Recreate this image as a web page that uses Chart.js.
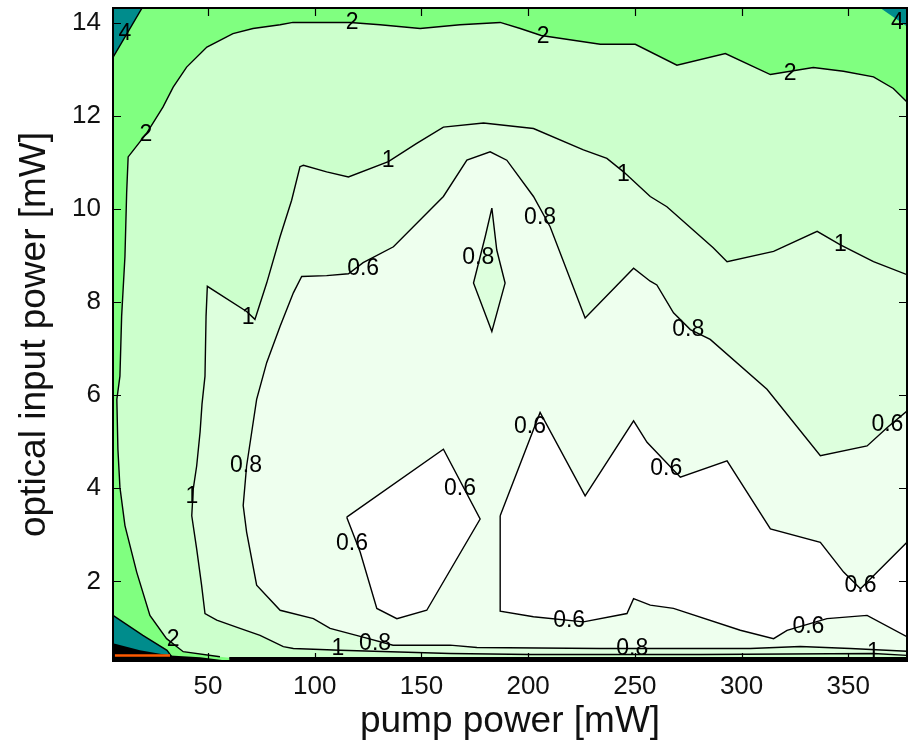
<!DOCTYPE html>
<html>
<head>
<meta charset="utf-8">
<script src="https://cdn.jsdelivr.net/npm/chart.js@4.4.0/dist/chart.umd.min.js"></script>
<style>
  html, body { margin: 0; padding: 0; background: #fff; }
  canvas { display: block; }
</style>
</head>
<body>
<canvas id="contour" width="912" height="744"></canvas>
<script>
// axis ranges and ticks (pump power / optical input power, mW)
const xMin = 5.5, xMax = 377.5;
const yMin = 0.29, yMax = 14.32;
const xTicks = [50, 100, 150, 200, 250, 300, 350];
const yTicks = [2, 4, 6, 8, 10, 12, 14];

// contour outlines, [pump mW, optical mW]
const level4TopLeft = [[5.5, 14.32], [19.1, 14.32], [5.5, 13.26]];
const level4TopRight = [[365, 14.32], [377.5, 14.32], [377.5, 13.92]];
const level4BottomLeft = [[5.5, 1.27], [19.5, 0.84], [30.8, 0.52], [34.5, 0.29], [5.5, 0.29]];
const darkBottomLeft = [[5.5, 0.67], [18.1, 0.52], [32.2, 0.41], [46.3, 0.37], [60.3, 0.29], [5.5, 0.29]];

const contour2 = [
  [55.6, 0.38], [38.4, 0.49], [30.6, 0.77], [22.8, 1.27], [16.6, 2.20], [11.1, 3.20],
  [8.75, 4.02], [7.8, 4.84], [7.3, 5.91], [8.75, 6.41], [9.55, 7.70], [11.1, 8.98],
  [11.9, 10.35], [12.6, 11.12], [21.3, 11.63], [28.9, 12.19], [33.7, 12.62], [40.0, 13.05],
  [49.5, 13.48], [61.7, 13.77], [71.1, 13.88], [83.8, 13.96], [89.8, 14.01], [116.6, 14.01],
  [130.6, 13.96], [149.4, 13.88], [168.1, 13.96], [186.9, 14.01], [196.3, 13.88], [206.1, 13.73],
  [233.8, 13.54], [250.2, 13.54], [269.7, 13.09], [292.4, 13.34], [313.5, 12.89], [333.6, 13.04],
  [347.7, 12.96], [361.8, 12.84], [371.1, 12.59], [377.5, 12.30], [377.5, 0.36], [60, 0.36]
];

const contour1 = [
  [377.5, 0.41], [361.8, 0.45], [280.6, 0.43], [201.0, 0.43], [163.4, 0.45], [111.9, 0.52],
  [90.0, 0.56], [85.3, 0.60], [74.4, 0.84], [65.0, 0.99], [54.1, 1.17], [48.6, 1.31],
  [47.0, 1.92], [44.7, 2.70], [42.4, 3.41], [43.1, 3.99], [44.7, 4.48], [46.3, 5.21],
  [47.2, 5.81], [48.6, 6.41], [49.1, 7.70], [49.7, 8.34], [68.1, 7.80], [72.0, 7.63],
  [77.5, 8.41], [83.8, 9.41], [89.2, 10.19], [93.1, 10.91], [94.7, 10.94], [105.6, 10.80],
  [115.8, 10.69], [134.5, 11.02], [147.8, 11.41], [160.3, 11.76], [179.1, 11.85], [202.5, 11.73],
  [225.9, 11.27], [236.9, 11.09], [244.7, 10.80], [257.2, 10.27], [265.0, 10.05], [286.7, 9.17],
  [293.2, 8.87], [315.0, 9.09], [335.4, 9.52], [346.3, 9.23], [361.8, 8.87], [377.5, 8.59]
];

const contour08 = [
  [377.5, 0.50], [351.0, 0.56], [327.5, 0.60], [304.1, 0.56], [233.8, 0.56], [176.0, 0.58],
  [163.4, 0.63], [136.7, 0.63], [121.3, 0.82], [107.2, 0.99], [99.4, 1.20], [83.8, 1.38],
  [72.8, 1.92], [68.1, 3.06], [66.5, 3.63], [68.1, 4.48], [70.5, 5.21], [72.8, 5.91],
  [77.5, 6.70], [83.8, 7.48], [90.0, 8.20], [93.9, 8.55], [105.6, 8.57], [115.8, 8.61],
  [122.7, 8.85], [136.9, 9.19], [160.3, 10.27], [171.3, 11.05], [182.2, 11.23], [190.0, 11.05],
  [202.5, 10.27], [210.3, 9.62], [226.7, 7.66], [249.4, 8.73], [257.2, 8.45], [260.3, 8.37],
  [268.1, 7.77], [276.0, 7.41], [285.3, 7.20], [311.9, 6.13], [336.9, 4.70], [358.8, 4.91],
  [368.8, 5.33], [377.5, 5.66]
];

const island08 = [
  [183.0, 10.02], [185.3, 9.12], [189.2, 8.41], [183.0, 7.37], [174.4, 8.41], [179.9, 9.41]
];

const pocket06Left = [
  [115.0, 3.38], [160.3, 4.84], [177.5, 3.34], [152.5, 1.38], [138.5, 1.20], [129.1, 1.42], [121.3, 2.63]
];

const pocket06Right = [
  [186.9, 3.41], [205.6, 5.63], [226.7, 3.84], [249.4, 5.45], [255.7, 4.99], [271.3, 4.24],
  [293.2, 4.59], [313.5, 3.13], [336.9, 2.84], [347.8, 2.20], [355.7, 1.84], [377.5, 2.84],
  [377.5, 0.81], [358.8, 1.27], [340.0, 1.20], [321.3, 0.95], [315.0, 0.77], [299.4, 0.95],
  [268.1, 1.42], [257.2, 1.49], [249.4, 1.63], [246.3, 1.31], [225.9, 1.13], [202.5, 1.24],
  [186.9, 1.36]
];

const bottomBand = [[60, 0.33], [377.5, 0.33]];
const orangeBand = [[6.4, 0.41], [32.2, 0.41]];

// contour labels
const labelText = ['4', '4', '2', '2', '2', '2', '2', '1', '1', '1', '1', '1', '1', '1',
  '0.6', '0.8', '0.8', '0.8', '0.8', '0.6', '0.6', '0.6', '0.6', '0.6', '0.6', '0.6', '0.6', '0.8', '0.8'];
const labelX = [11.1, 373.0, 117.5, 207.0, 322.8, 20.9, 33.7, 134.4, 244.6, 346.3, 68.8, 42.5, 110.9, 361.8,
  122.7, 176.6, 205.6, 275.0, 67.8, 200.9, 168.1, 117.5, 264.7, 368.3, 355.7, 219.2, 331.3, 128.3, 248.8];
const labelY = [13.77, 14.0, 14.01, 13.71, 12.91, 11.59, 0.74, 11.05, 10.75, 9.23, 7.67, 3.83, 0.56, 0.47,
  8.71, 8.95, 9.81, 7.41, 4.48, 5.33, 3.99, 2.81, 4.43, 5.36, 1.91, 1.16, 1.03, 0.67, 0.56];

const font = '"Liberation Sans", Arial, Helvetica, sans-serif';

function layer(points, fillColor, stroke, closed, width) {
  let data = points.map(p => ({x: p[0], y: p[1]}));
  if (closed) data.push(data[0]);
  return {
    data: data,
    backgroundColor: fillColor,
    borderColor: stroke || 'rgba(0,0,0,0)',
    borderWidth: stroke ? (width || 1.4) : 0,
    fill: fillColor ? 'shape' : false,
    pointRadius: 0,
    tension: 0
  };
}

const background = [[xMin, yMin], [xMax, yMin], [xMax, yMax], [xMin, yMax]];

// back to front
let datasets = [
  layer(background, '#80ff80', null, false),
  layer(level4TopLeft, '#008c8c', '#000', false),
  layer(level4TopRight, '#008c8c', '#000', false),
  layer(level4BottomLeft, '#008c8c', '#000', false),
  layer(darkBottomLeft, '#000000', null, false),
  layer(orangeBand, null, '#ff5a00', false, 2.5),
  layer(contour2, '#ccffcc', '#000', false),
  layer(contour1, '#ddffdd', '#000', false),
  layer(contour08, '#eeffee', '#000', false),
  layer(island08, '#ddffdd', '#000', true),
  layer(pocket06Left, '#ffffff', '#000', true),
  layer(pocket06Right, '#ffffff', '#000', true),
  layer(bottomBand, null, '#000', false, 3)
];
// higher order is drawn first
datasets.forEach((d, i) => { d.order = datasets.length - i; });

const frame = {
  id: 'frame',
  afterDatasetsDraw(chart) {
    const ctx = chart.ctx, a = chart.chartArea;
    const x = chart.scales.x, y = chart.scales.y;
    ctx.save();
    ctx.beginPath();
    ctx.rect(a.left, a.top, a.right - a.left, a.bottom - a.top);
    ctx.clip();
    ctx.font = '23px ' + font;
    ctx.fillStyle = '#000';
    ctx.textAlign = 'center';
    ctx.textBaseline = 'middle';
    labelText.forEach((t, i) => {
      ctx.fillText(t, x.getPixelForValue(labelX[i]), y.getPixelForValue(labelY[i]));
    });
    ctx.restore();

    ctx.save();
    ctx.strokeStyle = '#000';
    ctx.lineWidth = 1.2;
    ctx.beginPath();
    xTicks.forEach(v => {
      const px = Math.round(x.getPixelForValue(v)) + 0.5;
      ctx.moveTo(px, a.bottom); ctx.lineTo(px, a.bottom - 8);
      ctx.moveTo(px, a.top); ctx.lineTo(px, a.top + 8);
    });
    yTicks.forEach(v => {
      const py = Math.round(y.getPixelForValue(v)) + 0.5;
      ctx.moveTo(a.left, py); ctx.lineTo(a.left + 8, py);
      ctx.moveTo(a.right, py); ctx.lineTo(a.right - 8, py);
    });
    ctx.stroke();
    ctx.lineWidth = 2;
    ctx.strokeRect(a.left, a.top, a.right - a.left, a.bottom - a.top);
    ctx.restore();
  }
};

const chart = new Chart(document.getElementById('contour').getContext('2d'), {
  type: 'line',
  data: { datasets: datasets },
  options: {
    responsive: false,
    animation: false,
    layout: { padding: { top: 8, right: 5, left: 0, bottom: 0 } },
    plugins: {
      legend: { display: false },
      tooltip: { enabled: false }
    },
    scales: {
      x: {
        type: 'linear',
        min: xMin,
        max: xMax,
        grid: { display: false, drawTicks: false },
        border: { display: false },
        ticks: { font: { size: 26, family: font }, color: '#111', padding: 10 },
        afterBuildTicks: s => { s.ticks = xTicks.map(v => ({value: v})); },
        afterFit: s => { s.height = 83; s.paddingLeft = 0; s.paddingRight = 0; },
        title: {
          display: true,
          text: 'pump power [mW]',
          font: { size: 37, family: font },
          color: '#111',
          padding: { top: 0, bottom: 0 }
        }
      },
      y: {
        type: 'linear',
        min: yMin,
        max: yMax,
        grid: { display: false, drawTicks: false },
        border: { display: false },
        ticks: { font: { size: 26, family: font }, color: '#111', padding: 12 },
        afterBuildTicks: s => { s.ticks = yTicks.map(v => ({value: v})); },
        afterFit: s => { s.width = 113; s.paddingTop = 0; s.paddingBottom = 0; },
        title: {
          display: true,
          text: 'optical input power [mW]',
          font: { size: 37, family: font },
          color: '#111',
          padding: { top: 13, bottom: 0 }
        }
      }
    }
  },
  plugins: [frame]
});
</script>
</body>
</html>
